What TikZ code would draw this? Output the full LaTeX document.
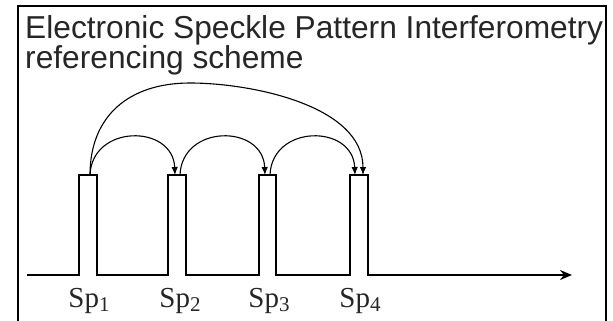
\documentclass[tikz,border=0pt]{standalone}
\usepackage{fontspec}
\setmainfont{Liberation Serif}
\newfontfamily\titlefont{Liberation Sans}
\usetikzlibrary{arrows.meta}
\newcommand{\spsub}[1]{\raisebox{-0.35ex}{\fontsize{21}{21}\selectfont #1}}
\begin{document}
\begin{tikzpicture}[x=1pt,y=-1pt,
  titletext/.style={anchor=base west,inner sep=0pt,font=\titlefont\fontsize{31.7}{32}\selectfont,text=black!85},
  splabel/.style={anchor=base,inner sep=0pt,font=\fontsize{29}{29}\selectfont,text=black!85},
  wave/.style={line width=2.4pt,line join=miter},
  link/.style={line width=1.1pt,-{Latex[length=8pt,width=6.5pt]}},
  frameline/.style={line width=2pt}]
\path[use as bounding box] (0,0) rectangle (613,321);
% frame
\draw[frameline] (18,321) -- (18,6) -- (606,6) -- (606,321);
% title
\node[titletext] (t1) at (25,39) {Electronic Speckle Pattern Interferometry};
\node[titletext] (t2) at (25,68) {referencing scheme};
% pulse-top coordinates
\coordinate (s1) at (90,175);
\coordinate (e2) at (175,175);
\coordinate (s2) at (180,175);
\coordinate (e3) at (265,175);
\coordinate (s3) at (270,175);
\coordinate (e4a) at (355,175);
\coordinate (e4b) at (363,175);
\coordinate (axstart) at (27,275);
\coordinate (axend) at (572,275);
% waveform
\draw[wave,-{Stealth[length=12pt,width=10pt,inset=4pt]}] (axstart) -- (79,275) -- (79,175) -- (97,175) -- (97,275)
  -- (168,275) -- (168,175) -- (186,175) -- (186,275)
  -- (259,275) -- (259,175) -- (276,175) -- (276,275)
  -- (350,275) -- (350,175) -- (368,175) -- (368,275) -- (axend);
% arcs
\draw[link] (s1) .. controls (92,124) and (173,124) .. (e2);
\draw[link] (s2) .. controls (182,124) and (263,124) .. (e3);
\draw[link] (s3) .. controls (272,124) and (353,124) .. (e4a);
\draw[link] (s1) .. controls (90,115) and (130,83) .. (190,83)
  .. controls (250,83) and (363,105) .. (e4b);
% labels
\node[splabel] (l1) at (89,307) {Sp\spsub{1}};
\node[splabel] (l2) at (180,307) {Sp\spsub{2}};
\node[splabel] (l3) at (269,307) {Sp\spsub{3}};
\node[splabel] (l4) at (360,307) {Sp\spsub{4}};
\end{tikzpicture}
\end{document}
